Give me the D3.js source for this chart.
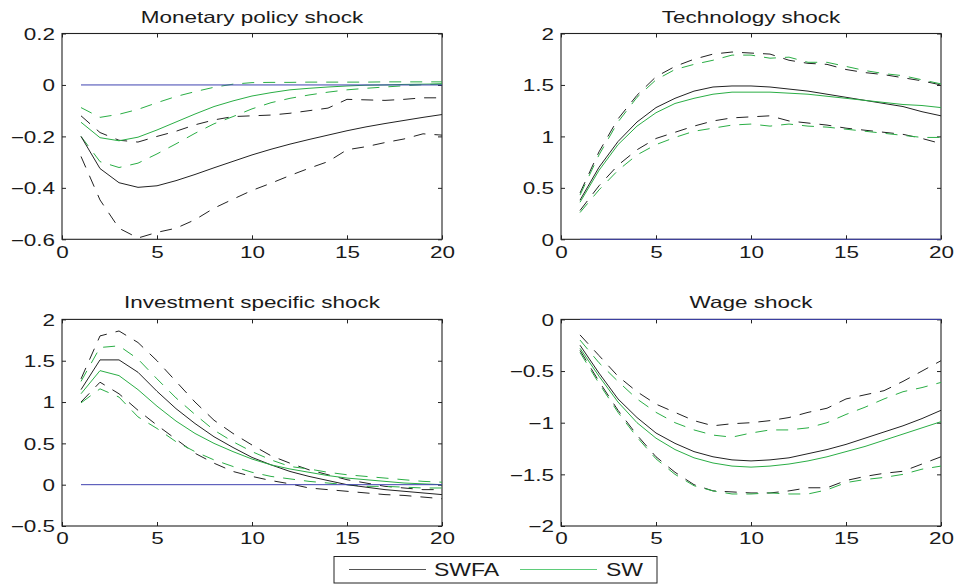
<!DOCTYPE html>
<html>
<head>
<meta charset="utf-8">
<script src="https://cdn.jsdelivr.net/npm/d3@7/dist/d3.min.js"></script>
<style>
  html, body { margin: 0; padding: 0; background: #fff; }
  svg { display: block; }
  text { font-family: "Liberation Sans", Arial, Helvetica, sans-serif; fill: #1a1a1a; }
</style>
</head>
<body>
<svg id="chart" width="957" height="586"></svg>
<script>
// ---------------- DATA ----------------
const horizons = [1,2,3,4,5,6,7,8,9,10,11,12,13,14,15,16,17,18,19,20];
const xTicks = [0, 5, 10, 15, 20];
const seriesNames = ["SWFA", "SW"];
const panelTitles = ["Monetary policy shock", "Technology shock", "Investment specific shock", "Wage shock"];

// Monetary policy shock
const monSWFA   = [-0.200,-0.325,-0.380,-0.398,-0.392,-0.372,-0.348,-0.322,-0.297,-0.272,-0.250,-0.230,-0.212,-0.195,-0.178,-0.163,-0.150,-0.138,-0.126,-0.115];
const monSWFAhi = [-0.120,-0.185,-0.215,-0.222,-0.200,-0.180,-0.155,-0.136,-0.123,-0.120,-0.117,-0.110,-0.100,-0.090,-0.056,-0.058,-0.060,-0.056,-0.050,-0.050];
const monSWFAlo = [-0.278,-0.447,-0.557,-0.595,-0.573,-0.557,-0.524,-0.479,-0.444,-0.410,-0.382,-0.352,-0.324,-0.298,-0.252,-0.240,-0.224,-0.210,-0.190,-0.195];
const monSW     = [-0.145,-0.205,-0.217,-0.203,-0.175,-0.144,-0.113,-0.084,-0.062,-0.043,-0.030,-0.019,-0.013,-0.008,-0.004,-0.001,0.000,0.002,0.003,0.004];
const monSWhi   = [-0.088,-0.126,-0.114,-0.095,-0.069,-0.045,-0.026,-0.009,0.003,0.009,0.010,0.010,0.011,0.011,0.011,0.011,0.012,0.012,0.012,0.012];
const monSWlo   = [-0.200,-0.298,-0.321,-0.304,-0.268,-0.229,-0.188,-0.151,-0.123,-0.093,-0.069,-0.052,-0.039,-0.028,-0.019,-0.013,-0.008,-0.003,0.001,0.004];

// Technology shock
const techSWFA   = [0.38,0.70,0.95,1.14,1.28,1.37,1.44,1.48,1.49,1.49,1.48,1.46,1.44,1.41,1.38,1.35,1.32,1.29,1.24,1.20];
const techSWFAhi = [0.45,0.85,1.17,1.40,1.58,1.68,1.75,1.80,1.82,1.81,1.80,1.74,1.71,1.70,1.65,1.62,1.60,1.57,1.54,1.50];
const techSWFAlo = [0.28,0.52,0.72,0.87,0.98,1.04,1.10,1.15,1.18,1.19,1.20,1.15,1.13,1.11,1.08,1.06,1.04,1.02,0.98,0.93];
const techSW     = [0.36,0.67,0.92,1.10,1.23,1.32,1.37,1.41,1.43,1.43,1.43,1.42,1.41,1.39,1.37,1.35,1.33,1.31,1.30,1.28];
const techSWhi   = [0.43,0.82,1.14,1.38,1.55,1.65,1.70,1.74,1.79,1.79,1.76,1.77,1.72,1.72,1.68,1.64,1.61,1.59,1.55,1.51];
const techSWlo   = [0.26,0.48,0.67,0.82,0.92,0.99,1.05,1.08,1.11,1.12,1.10,1.12,1.10,1.09,1.07,1.05,1.03,1.01,0.99,0.99];

// Investment specific shock
const invSWFA   = [1.15,1.51,1.51,1.36,1.13,0.92,0.74,0.58,0.45,0.33,0.24,0.16,0.10,0.05,0.00,-0.03,-0.06,-0.08,-0.10,-0.12];
const invSWFAhi = [1.28,1.80,1.86,1.72,1.50,1.25,1.00,0.78,0.62,0.48,0.35,0.26,0.18,0.12,0.06,0.02,-0.02,-0.04,-0.06,-0.06];
const invSWFAlo = [1.00,1.24,1.10,0.90,0.72,0.55,0.38,0.26,0.16,0.10,0.05,0.01,-0.04,-0.06,-0.08,-0.10,-0.12,-0.13,-0.15,-0.17];
const invSW     = [1.10,1.38,1.32,1.15,0.95,0.77,0.62,0.50,0.40,0.31,0.24,0.19,0.15,0.11,0.08,0.06,0.04,0.02,0.01,0.00];
const invSWhi   = [1.25,1.66,1.68,1.52,1.28,1.05,0.85,0.66,0.52,0.40,0.30,0.22,0.19,0.15,0.12,0.10,0.08,0.06,0.04,0.03];
const invSWlo   = [0.99,1.16,1.06,0.82,0.68,0.52,0.40,0.30,0.22,0.15,0.10,0.07,0.04,0.02,0.00,-0.02,-0.02,-0.03,-0.04,-0.04];

// Wage shock
const wageSWFA   = [-0.25,-0.52,-0.77,-0.95,-1.10,-1.20,-1.28,-1.33,-1.36,-1.37,-1.36,-1.34,-1.30,-1.26,-1.21,-1.15,-1.09,-1.03,-0.96,-0.88];
const wageSWFAhi = [-0.15,-0.35,-0.55,-0.70,-0.82,-0.90,-0.98,-1.03,-1.01,-1.00,-0.98,-0.95,-0.90,-0.86,-0.77,-0.73,-0.69,-0.60,-0.50,-0.40];
const wageSWFAlo = [-0.30,-0.60,-0.88,-1.12,-1.33,-1.48,-1.60,-1.66,-1.67,-1.68,-1.68,-1.66,-1.63,-1.63,-1.56,-1.52,-1.49,-1.47,-1.40,-1.33];
const wageSW     = [-0.28,-0.55,-0.80,-1.00,-1.15,-1.26,-1.34,-1.39,-1.42,-1.43,-1.42,-1.40,-1.37,-1.33,-1.28,-1.23,-1.17,-1.11,-1.05,-0.99];
const wageSWhi   = [-0.20,-0.42,-0.60,-0.77,-0.90,-1.00,-1.07,-1.12,-1.14,-1.10,-1.07,-1.07,-1.05,-1.00,-0.92,-0.85,-0.77,-0.70,-0.66,-0.61];
const wageSWlo   = [-0.32,-0.62,-0.90,-1.14,-1.35,-1.50,-1.61,-1.66,-1.69,-1.69,-1.68,-1.69,-1.69,-1.65,-1.58,-1.55,-1.53,-1.50,-1.45,-1.42];

const zeroLine = [0,0,0,0,0,0,0,0,0,0,0,0,0,0,0,0,0,0,0,0];

// y-axis domains and ticks
const yDomains = [[-0.6, 0.2], [0, 2], [-0.5, 2], [-2, 0]];
const yTicks = [
  [-0.6, -0.4, -0.2, 0, 0.2],
  [0, 0.5, 1, 1.5, 2],
  [-0.5, 0, 0.5, 1, 1.5, 2],
  [-2, -1.5, -1, -0.5, 0]
];

// ---------------- LAYOUT / STYLE ----------------
const SX = 1.38;          // horizontal stretch of the glyphs in the original
const FS = 16.3;
const BLACK = "#222";
const GREEN = "#2aae45";
const ZERO = "#3f42b0";
const DASH = "12,9";

const boxes = [
  {x0: 62,  x1: 442, y0: 33.5,  y1: 239.3},
  {x0: 561, x1: 941, y0: 33.5,  y1: 239.3},
  {x0: 62,  x1: 442, y0: 319.4, y1: 526},
  {x0: 561, x1: 941, y0: 319.4, y1: 526}
];

const panelData = [
  {swfa: monSWFA,  swfaHi: monSWFAhi,  swfaLo: monSWFAlo,  sw: monSW,  swHi: monSWhi,  swLo: monSWlo},
  {swfa: techSWFA, swfaHi: techSWFAhi, swfaLo: techSWFAlo, sw: techSW, swHi: techSWhi, swLo: techSWlo},
  {swfa: invSWFA,  swfaHi: invSWFAhi,  swfaLo: invSWFAlo,  sw: invSW,  swHi: invSWhi,  swLo: invSWlo},
  {swfa: wageSWFA, swfaHi: wageSWFAhi, swfaLo: wageSWFAlo, sw: wageSW, swHi: wageSWhi, swLo: wageSWlo}
];

const fmtY = v => {
  const s = String(Math.abs(v));
  return (v < 0 ? "\u2212" : "") + s;
};

const svg = d3.select("#chart");

panelTitles.forEach((title, i) => {
  const b = boxes[i];
  const x = d3.scaleLinear().domain([0, 20]).range([b.x0, b.x1]);
  const y = d3.scaleLinear().domain(yDomains[i]).range([b.y1, b.y0]);
  const g = svg.append("g");

  // left axis with labels
  const left = g.append("g").attr("transform", `translate(${b.x0},0)`)
    .call(d3.axisLeft(y).tickValues(yTicks[i]).tickSize(-4).tickFormat(fmtY));
  left.select(".domain").remove();
  left.selectAll("line").attr("stroke", BLACK);
  left.selectAll("text")
    .attr("x", -7 / SX).attr("dy", "0.36em")
    .attr("transform", `scale(${SX},1)`)
    .style("font-size", FS + "px").style("font-family", null)
    .attr("fill", "#1a1a1a");

  // right axis (ticks only)
  const right = g.append("g").attr("transform", `translate(${b.x1},0)`)
    .call(d3.axisRight(y).tickValues(yTicks[i]).tickSize(-4).tickFormat(""));
  right.select(".domain").remove();
  right.selectAll("line").attr("stroke", BLACK);

  // bottom axis
  const bottom = g.append("g").attr("transform", `translate(0,${b.y1})`)
    .call(d3.axisBottom(x).tickValues(xTicks).tickSize(-4).tickFormat(d3.format("d")));
  bottom.select(".domain").remove();
  bottom.selectAll("line").attr("stroke", BLACK);
  bottom.selectAll("text")
    .attr("y", 18.5).attr("dy", 0)
    .attr("transform", `scale(${SX},1)`)
    .style("font-size", FS + "px").style("font-family", null)
    .attr("fill", "#1a1a1a");

  // top axis (ticks only)
  const top = g.append("g").attr("transform", `translate(0,${b.y0})`)
    .call(d3.axisTop(x).tickValues(xTicks).tickSize(-4).tickFormat(""));
  top.select(".domain").remove();
  top.selectAll("line").attr("stroke", BLACK);

  // frame
  g.append("rect")
    .attr("x", b.x0).attr("y", b.y0)
    .attr("width", b.x1 - b.x0).attr("height", b.y1 - b.y0)
    .attr("fill", "none").attr("stroke", BLACK).attr("stroke-width", 1.1);

  // title
  g.append("text")
    .attr("transform", `translate(${(b.x0 + b.x1) / 2},${b.y0 - 11}) scale(${SX},1)`)
    .attr("text-anchor", "middle")
    .style("font-size", FS + "px")
    .text(title);

  const line = d3.line().x((d, k) => x(horizons[k])).y(d => y(d));
  const d = panelData[i];
  const plot = g.append("g");

  const series = [
    {v: d.swfaHi, c: BLACK, dash: DASH},
    {v: d.swfaLo, c: BLACK, dash: DASH},
    {v: d.swHi,   c: GREEN, dash: DASH},
    {v: d.swLo,   c: GREEN, dash: DASH},
    {v: d.swfa,   c: BLACK, dash: null},
    {v: d.sw,     c: GREEN, dash: null},
    {v: zeroLine, c: ZERO,  dash: null}
  ];
  series.forEach(s => {
    plot.append("path")
      .attr("d", line(s.v))
      .attr("fill", "none")
      .attr("stroke", s.c)
      .attr("stroke-width", 1)
      .attr("stroke-dasharray", s.dash);
  });
});

// ---------------- LEGEND ----------------
const leg = svg.append("g");
leg.append("rect")
  .attr("x", 334).attr("y", 556.5).attr("width", 323).attr("height", 26.5)
  .attr("fill", "#fff").attr("stroke", BLACK).attr("stroke-width", 1);
const legItems = [
  {name: seriesNames[0], c: "#555", lx0: 349, lx1: 426, tx: 434},
  {name: seriesNames[1], c: "#5fcc7a", lx0: 520, lx1: 597, tx: 606}
];
legItems.forEach(it => {
  leg.append("line")
    .attr("x1", it.lx0).attr("x2", it.lx1).attr("y1", 569.5).attr("y2", 569.5)
    .attr("stroke", it.c).attr("stroke-width", 1);
  leg.append("text")
    .attr("transform", `translate(${it.tx},576) scale(1.28,1)`)
    .style("font-size", "18px")
    .text(it.name);
});
</script>
</body>
</html>
